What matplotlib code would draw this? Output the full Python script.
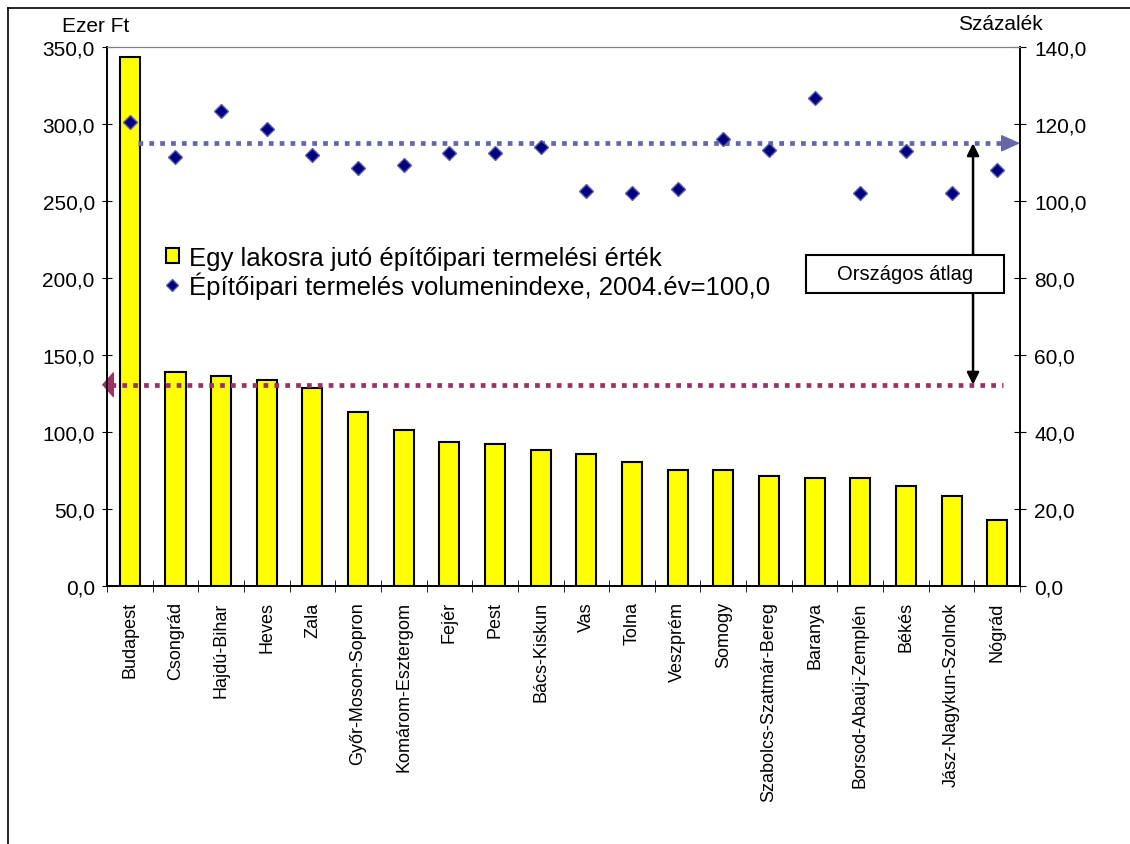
import matplotlib
matplotlib.use("Agg")
import matplotlib.pyplot as plt
import numpy as np
from matplotlib.lines import Line2D
from matplotlib.patches import Patch, Rectangle

plt.rcParams["font.family"] = ["Liberation Sans", "DejaVu Sans"]

# counties, ordered by per-capita construction output
counties = ["Budapest", "Csongrád", "Hajdú-Bihar", "Heves", "Zala",
            "Győr-Moson-Sopron", "Komárom-Esztergom", "Fejér", "Pest",
            "Bács-Kiskun", "Vas", "Tolna", "Veszprém", "Somogy",
            "Szabolcs-Szatmár-Bereg", "Baranya", "Borsod-Abaúj-Zemplén",
            "Békés", "Jász-Nagykun-Szolnok", "Nógrád"]
# per-capita output (thousand Ft)
per_capita = [343.5, 139.2, 136.6, 134.0, 128.8, 113.2, 101.5, 93.5, 92.2,
              88.3, 85.7, 80.5, 75.3, 75.3, 71.4, 70.1, 70.1, 64.9, 58.4, 42.9]
# volume index, 2004 = 100
vol_index = [120.6, 111.3, 123.3, 118.7, 112.0, 108.7, 109.4, 112.5, 112.5,
             114.0, 102.6, 102.0, 103.1, 116.1, 113.3, 126.8, 102.0, 112.9,
             102.0, 108.1]
avg_per_capita = 130.7   # national average, thousand Ft
avg_index = 115.0        # national average, %

left_ticks = [0, 50, 100, 150, 200, 250, 300, 350]
right_ticks = [0, 20, 40, 60, 80, 100, 120, 140]

def hu(v):
    return f"{v:.1f}".replace(".", ",")

fig = plt.figure(figsize=(11.3, 8.45), dpi=100)
ax = fig.add_axes([0.0947, 0.3053, 0.808, 0.6379])
ax2 = ax.twinx()

x = np.arange(len(counties))
ax.bar(x, per_capita, width=0.44, color="#FFFF00", edgecolor="black",
       linewidth=1.5, zorder=2)
ax2.plot(x, vol_index, linestyle="none", marker="D", markersize=7,
         color="#000080", markeredgecolor="#5c5ca8", markeredgewidth=1, zorder=5)

ax.set_xlim(-0.5, len(counties) - 0.5)
ax.set_ylim(0, 350)
ax2.set_ylim(0, 140)
ax.set_yticks(left_ticks)
ax.set_yticklabels([hu(v) for v in left_ticks])
ax2.set_yticks(right_ticks)
ax2.set_yticklabels([hu(v) for v in right_ticks])
ax.set_xticks(x)
ax.set_xticklabels(counties, rotation=90, fontsize=13)
ax.set_xticks(np.arange(-0.5, len(counties)), minor=True)
ax.tick_params(axis="x", which="major", length=0, pad=11)
ax.tick_params(axis="x", which="minor", direction="inout", length=9)
ax.tick_params(axis="y", direction="inout", length=7.5, labelsize=15, pad=5)
ax2.tick_params(axis="y", direction="inout", length=8.5, labelsize=15, pad=6)

for a in (ax, ax2):
    a.spines["top"].set_color("#808080")
    a.spines["left"].set_linewidth(1.2)
    a.spines["right"].set_linewidth(1.2)
    a.spines["bottom"].set_linewidth(1.2)

# national average lines
red = "#993366"
blue = "#6666a8"
ax.plot([-0.42, 19.13], [avg_per_capita, avg_per_capita], color=red,
        linewidth=3.4, linestyle=(0, (1, 1.3)), zorder=4, clip_on=False)
ax.annotate("", xy=(-0.61, avg_per_capita), xytext=(7.5, 0),
            textcoords="offset points", xycoords="data",
            arrowprops=dict(arrowstyle="-|>,head_length=0.75,head_width=0.85",
                            mutation_scale=10, color=red, shrinkA=0, shrinkB=0),
            annotation_clip=False, zorder=4)
ax2.plot([0.18, 19.13], [avg_index, avg_index], color=blue,
         linewidth=3.4, linestyle=(0, (1, 1.3)), zorder=4, clip_on=False)
ax2.annotate("", xy=(19.5, avg_index), xytext=(-12, 0),
             textcoords="offset points",
             arrowprops=dict(arrowstyle="-|>,head_length=1.0,head_width=0.45",
                             mutation_scale=12, color=blue, shrinkA=0, shrinkB=0),
             annotation_clip=False, zorder=4)

# double arrow between the two averages
ax2.annotate("", xy=(18.47, avg_index), xytext=(18.47, avg_per_capita * 140 / 350),
             arrowprops=dict(arrowstyle="<|-|>,head_length=0.6,head_width=0.3",
                             mutation_scale=12, color="black", lw=1.8,
                             shrinkA=0, shrinkB=0), zorder=6)
ax2.add_patch(Rectangle((0.7656, 0.5442), 0.2169, 0.0705, transform=ax2.transAxes,
                        facecolor="white", edgecolor="black", linewidth=1.5, zorder=7))
ax2.text(0.8741, 0.5794, "Országos átlag", transform=ax2.transAxes,
         ha="center", va="center", fontsize=14.5, zorder=8)

# axis titles
fig.text(96 / 1130, 1 - 27 / 845, "Ezer Ft", ha="center", va="center", fontsize=15)
fig.text(1000 / 1130, 1 - 24 / 845, "Százalék", ha="center", va="center", fontsize=15)

# legend
handles = [Patch(facecolor="#FFFF00", edgecolor="black", linewidth=1.5),
           Line2D([], [], linestyle="none", marker="D", markersize=6,
                  color="#000080", markeredgecolor="#5c5ca8")]
labels = ["Egy lakosra jutó építőipari termelési érték",
          "Építőipari termelés volumenindexe, 2004.év=100,0"]
ax2.legend(handles, labels, loc="upper left", bbox_to_anchor=(0.0505, 0.655),
           frameon=False, fontsize=18.5, handlelength=0.5, handleheight=0.5,
           handletextpad=0.4, labelspacing=0.05, borderpad=0)

# outer chart border
fig.add_artist(Line2D([8 / 1130, 8 / 1130], [0, 1 - 9 / 845], color="black", lw=1.2))
fig.add_artist(Line2D([8 / 1130, 1], [1 - 9 / 845, 1 - 9 / 845], color="black", lw=1.2))

fig.savefig("out.png", dpi=100)
